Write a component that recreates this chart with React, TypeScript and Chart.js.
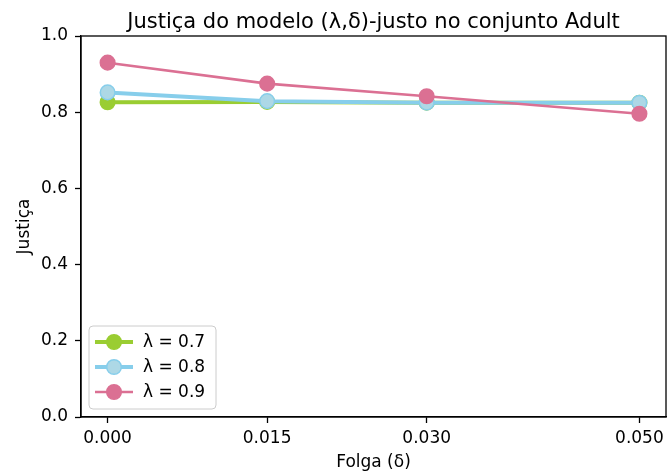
import React, { useEffect, useRef } from "react";
import { Chart, registerables } from "chart.js";

Chart.register(...registerables);

const xValues = [0, 0.015, 0.03, 0.05];
const xTicks = [0, 0.015, 0.03, 0.05];
const yTicks = [0, 0.2, 0.4, 0.6, 0.8, 1.0];
const seriesLabels = ["λ = 0.7", "λ = 0.8", "λ = 0.9"];
const lambda07 = [0.826, 0.827, 0.825, 0.825];
const lambda08 = [0.852, 0.829, 0.825, 0.825];
const lambda09 = [0.930, 0.875, 0.842, 0.796];

const titleText = "Justiça do modelo (λ,δ)-justo no conjunto Adult";
const xTitle = "Folga (δ)";
const yTitle = "Justiça";

const FONT = "'DejaVu Sans', sans-serif";

const styles = [
  { line: "#9acd32", fill: "#9acd32", edge: "#9acd32", width: 4 },
  { line: "#87ceeb", fill: "#add8e6", edge: "#87ceeb", width: 4 },
  { line: "#db7093", fill: "#db7093", edge: "#db7093", width: 2.6 },
];

const framePlugin = {
  id: "frame",
  afterDraw(chart: any) {
    const { ctx, chartArea } = chart;
    const { left, right, top, bottom } = chartArea;
    ctx.save();
    // spines
    ctx.strokeStyle = "#000";
    ctx.lineWidth = 1.3;
    ctx.strokeRect(left, top, right - left, bottom - top);
    // title
    ctx.fillStyle = "#000";
    ctx.font = `21px ${FONT}`;
    ctx.textAlign = "center";
    ctx.textBaseline = "alphabetic";
    ctx.fillText(titleText, (left + right) / 2, 28);
    // x title
    ctx.font = `17px ${FONT}`;
    ctx.fillText(xTitle, (left + right) / 2, 467);
    // y title
    ctx.save();
    ctx.translate(29, (top + bottom) / 2);
    ctx.rotate(-Math.PI / 2);
    ctx.fillText(yTitle, 0, 0);
    ctx.restore();
    // legend
    const bx = left + 8;
    const bw = 127;
    const bh = 83;
    const by = bottom - 8 - bh;
    ctx.beginPath();
    (ctx as any).roundRect(bx, by, bw, bh, 4);
    ctx.fillStyle = "rgba(255,255,255,0.8)";
    ctx.fill();
    ctx.strokeStyle = "#cccccc";
    ctx.lineWidth = 1;
    ctx.stroke();
    ctx.font = `17px ${FONT}`;
    ctx.textAlign = "left";
    ctx.textBaseline = "middle";
    seriesLabels.forEach((lab, i) => {
      const s = styles[i];
      const cy = by + 16 + i * 25;
      ctx.strokeStyle = s.line;
      ctx.lineWidth = s.width;
      ctx.beginPath();
      ctx.moveTo(bx + 6, cy);
      ctx.lineTo(bx + 44, cy);
      ctx.stroke();
      ctx.beginPath();
      ctx.arc(bx + 25, cy, 7.3, 0, Math.PI * 2);
      ctx.fillStyle = s.fill;
      ctx.fill();
      ctx.strokeStyle = s.edge;
      ctx.lineWidth = 1.5;
      ctx.stroke();
      ctx.fillStyle = "#000";
      ctx.fillText(lab, bx + 54, cy + 1);
    });
    ctx.restore();
  },
};

export default function App() {
  const ref = useRef<HTMLCanvasElement>(null);
  useEffect(() => {
    const series = [lambda07, lambda08, lambda09];
    const chart = new Chart(ref.current!, {
      type: "line",
      data: {
        datasets: series.map((vals, i) => ({
          label: seriesLabels[i],
          data: xValues.map((x, j) => ({ x, y: vals[j] })),
          borderColor: styles[i].line,
          borderWidth: styles[i].width,
          backgroundColor: styles[i].fill,
          pointBackgroundColor: styles[i].fill,
          pointBorderColor: styles[i].edge,
          pointBorderWidth: 1.5,
          pointRadius: 7.3,
          tension: 0,
          order: 3 - i,
          clip: false as any,
        })),
      },
      options: {
        responsive: false,
        animation: false,
        layout: { autoPadding: false, padding: { left: 0, right: 1, top: 36, bottom: 0 } },
        plugins: { legend: { display: false }, title: { display: false }, tooltip: { enabled: false } },
        scales: {
          x: {
            type: "linear",
            min: -0.0025,
            max: 0.0525,
            afterBuildTicks: (s: any) => {
              s.ticks = xTicks.map((v) => ({ value: v }));
            },
            afterFit: (s: any) => {
              s.height = 57;
              s.paddingLeft = 0;
              s.paddingRight = 0;
            },
            grid: { drawOnChartArea: false, drawTicks: true, tickLength: 6, tickColor: "#000", tickWidth: 1.3 },
            border: { color: "#000", width: 1.3 },
            ticks: {
              color: "#000",
              font: { family: FONT, size: 17 },
              padding: 5,
              maxRotation: 0,
              autoSkip: false,
              callback: (v: any) => Number(v).toFixed(3),
            },
          },
          y: {
            type: "linear",
            min: 0,
            max: 1,
            afterBuildTicks: (s: any) => {
              s.ticks = yTicks.map((v) => ({ value: v }));
            },
            afterFit: (s: any) => {
              s.width = 81;
            },
            grid: { drawOnChartArea: false, drawTicks: true, tickLength: 6, tickColor: "#000", tickWidth: 1.3 },
            border: { color: "#000", width: 1.3 },
            ticks: {
              color: "#000",
              font: { family: FONT, size: 17 },
              padding: 7,
              callback: (v: any) => Number(v).toFixed(1),
            },
          },
        },
      },
      plugins: [framePlugin],
    });
    return () => chart.destroy();
  }, []);
  return (
    <div style={{ position: "absolute", left: 0, top: 0, width: 667, height: 474, background: "#fff" }}>
      <canvas ref={ref} width={667} height={474} style={{ width: 667, height: 474 }} />
    </div>
  );
}
